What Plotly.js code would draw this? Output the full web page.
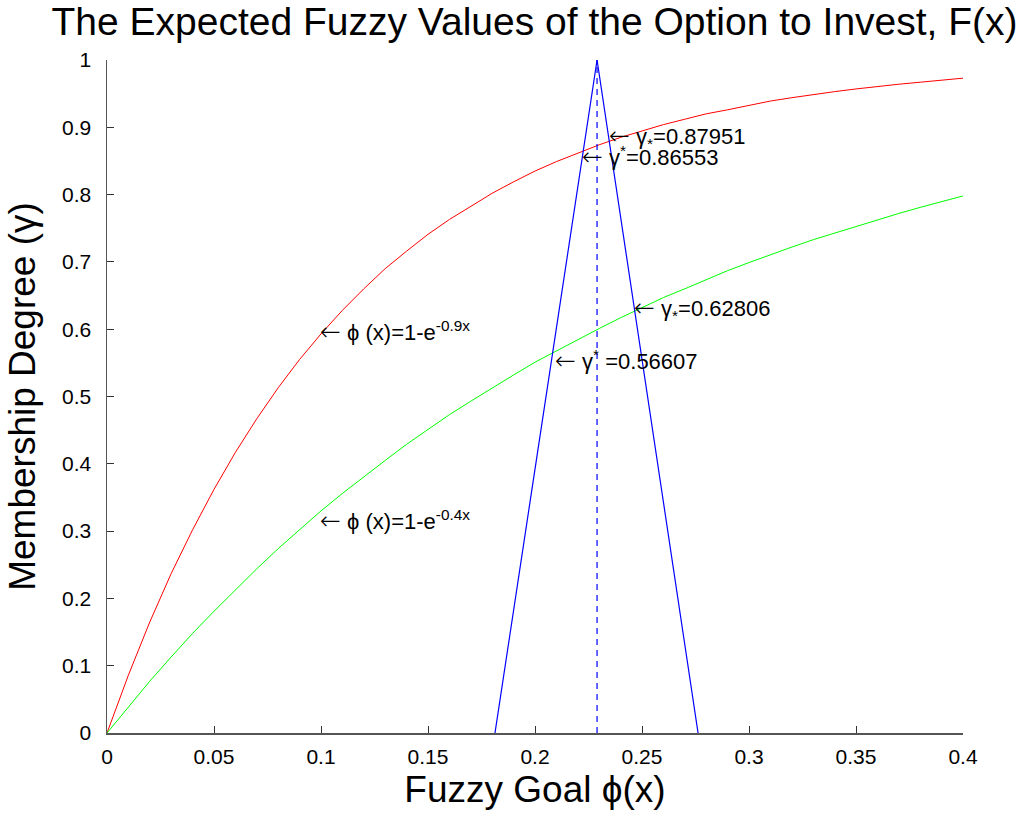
<!DOCTYPE html>
<html>
<head>
<meta charset="utf-8">
<script src="https://cdn.plot.ly/plotly-3.0.1.min.js"></script>
<style>html,body{margin:0;padding:0;background:#fff;}#chart{width:1036px;height:816px;}</style>
</head>
<body>
<div id="chart"></div>
<script>
// Goal grid (x values)
const xGrid = [0,0.01,0.02,0.03,0.04,0.05,0.06,0.07,0.08,0.09,0.10,0.11,0.12,0.13,0.14,0.15,0.16,0.17,0.18,0.19,0.20,
  0.21,0.22,0.23,0.24,0.25,0.26,0.27,0.28,0.29,0.30,0.31,0.32,0.33,0.34,0.35,0.36,0.37,0.38,0.39,0.40];
// Red curve: phi(x)=1-e^{-0.9x}
const redY = [0,0.086,0.165,0.237,0.302,0.362,0.417,0.467,0.513,0.555,0.593,0.628,0.660,0.690,0.716,0.741,0.763,0.783,0.802,0.819,0.835,
  0.849,0.862,0.874,0.885,0.895,0.904,0.912,0.920,0.926,0.933,0.939,0.944,0.949,0.953,0.957,0.961,0.964,0.967,0.970,0.973];
// Green curve: phi(x)=1-e^{-0.4x}
const greenY = [0,0.039,0.077,0.113,0.148,0.181,0.213,0.244,0.274,0.302,0.330,0.356,0.381,0.405,0.429,0.451,0.473,0.493,0.513,0.532,0.551,
  0.568,0.585,0.601,0.617,0.632,0.647,0.660,0.674,0.687,0.699,0.711,0.722,0.733,0.743,0.753,0.763,0.772,0.781,0.790,0.798];
// Triangular fuzzy value F(x)
const triX = [0.1813,0.229,0.2762];
const triY = [0,1,0];
// Dashed peak line
const peakX = [0.229,0.229];
const peakY = [0,1];
// Tick labels
const xTicks = [0,0.05,0.1,0.15,0.2,0.25,0.3,0.35,0.4];
const xTickText = ["0","0.05","0.1","0.15","0.2","0.25","0.3","0.35","0.4"];
const yTicks = [0,0.1,0.2,0.3,0.4,0.5,0.6,0.7,0.8,0.9,1];
const yTickText = ["0","0.1","0.2","0.3","0.4","0.5","0.6","0.7","0.8","0.9","1"];
// Annotations
const ARROW = '<span style="font-family:DejaVu Sans;font-size:25px;font-weight:200">←</span> ';
const annTexts = [ARROW+"ϕ (x)=1-e<sup>-0.9x</sup>",ARROW+"ϕ (x)=1-e<sup>-0.4x</sup>",ARROW+"γ<sub>*</sub>=0.87951",ARROW+"γ<sup>*</sup>=0.86553",ARROW+"γ<sub>*</sub>=0.62806",ARROW+"γ<sup>*</sup> =0.56607"];
const annX = [0.0986,0.0986,0.2335,0.221,0.2455,0.2085];
const annY = [0.596,0.316,0.886,0.856,0.6315,0.554];

const F = "Liberation Sans, Arial, sans-serif";
const traces = [
  {x:xGrid, y:redY, mode:"lines", line:{color:"#ff0000", width:1}, hoverinfo:"skip"},
  {x:xGrid, y:greenY, mode:"lines", line:{color:"#00ff00", width:1}, hoverinfo:"skip"},
  {x:triX, y:triY, mode:"lines", line:{color:"#0000ff", width:1.2}, hoverinfo:"skip"},
  {x:peakX, y:peakY, mode:"lines", line:{color:"#0000ff", width:1.2, dash:"6px,5px"}, hoverinfo:"skip"}
];
const annotations = annTexts.map((t,i)=>({x:annX[i], y:annY[i], xref:"x", yref:"y", text:t, showarrow:false,
  xanchor:"left", yanchor:"middle", font:{family:F, size:22, color:"#000"}}));
const layout = {
  width:1036, height:816,
  margin:{l:107, r:73, t:60, b:83},
  paper_bgcolor:"#fff", plot_bgcolor:"#fff",
  showlegend:false,
  font:{family:F, color:"#000"},
  title:{text:"The Expected Fuzzy Values of the Option to Invest, F(x)", font:{family:F, size:39, color:"#000"}, x:0.516, xanchor:"center", y:0.974, yanchor:"middle"},
  xaxis:{range:[0,0.4], tickvals:xTicks, ticktext:xTickText, ticks:"inside", ticklen:7, tickcolor:"#333",
    showline:true, linecolor:"#555", linewidth:1.5, mirror:false, showgrid:false, zeroline:false,
    ticklabelstandoff:4,
    tickfont:{family:F, size:21, color:"#000"},
    title:{text:"Fuzzy Goal ϕ(x)", font:{family:F, size:37, color:"#000"}, standoff:9}},
  yaxis:{range:[0,1], tickvals:yTicks, ticktext:yTickText, ticks:"inside", ticklen:7, tickcolor:"#333",
    showline:true, linecolor:"#555", linewidth:1.5, mirror:false, showgrid:false, zeroline:false,
    ticklabelstandoff:10,
    tickfont:{family:F, size:21, color:"#000"},
    title:{text:"Membership Degree (γ)", font:{family:F, size:37, color:"#000"}, standoff:15}},
  annotations:annotations
};
Plotly.newPlot("chart", traces, layout, {displayModeBar:false, staticPlot:true});
</script>
</body>
</html>
